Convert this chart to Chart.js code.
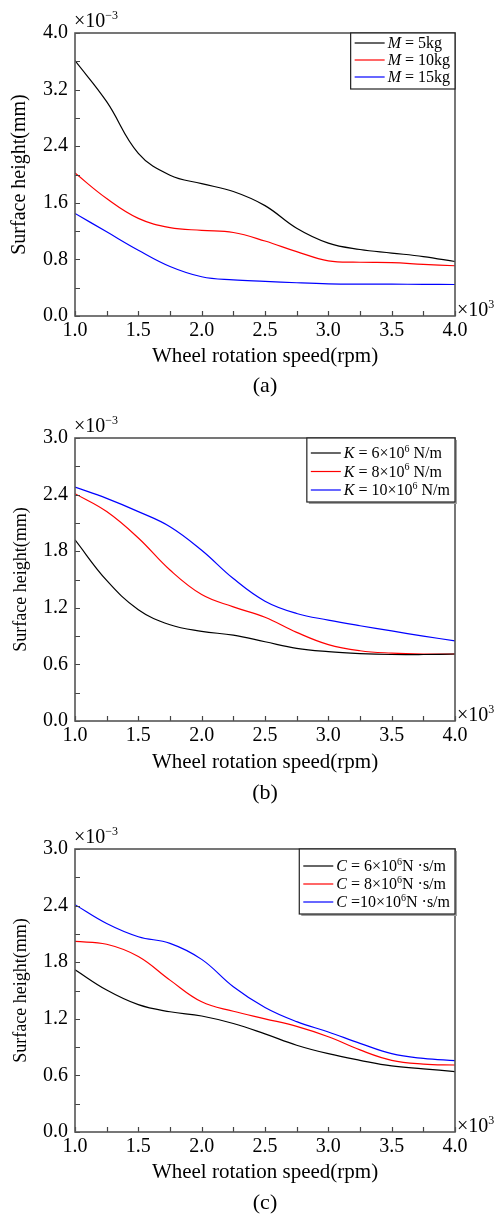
<!DOCTYPE html>
<html>
<head>
<meta charset="utf-8">
<script src="https://cdn.jsdelivr.net/npm/chart.js@4/dist/chart.umd.min.js"></script>
<style>
  html, body { margin: 0; padding: 0; background: #fff; }
  body { width: 499px; height: 1216px; position: relative; overflow: hidden; }
  .panel { position: absolute; left: 0; width: 499px; }
</style>
</head>
<body>
<div class="panel" style="top:0;height:400px"><canvas id="chartA"></canvas></div>
<div class="panel" style="top:400px;height:410px"><canvas id="chartB"></canvas></div>
<div class="panel" style="top:810px;height:406px"><canvas id="chartC"></canvas></div>
<script>
const FONT = "'Liberation Serif', 'Times New Roman', serif";

// wheel rotation speed, x10^3 rpm
const speed = [1.0, 1.25, 1.5, 1.75, 2.0, 2.25, 2.5, 2.75, 3.0, 3.25, 3.5, 3.75, 4.0];

// (a) mass, surface height x10^-3 mm
const massLabels = ['M = 5kg', 'M = 10kg', 'M = 15kg'];
const massM5  = [3.61, 3.03, 2.30, 1.99, 1.87, 1.76, 1.56, 1.24, 1.03, 0.94, 0.89, 0.84, 0.77];
const massM10 = [2.02, 1.66, 1.38, 1.25, 1.21, 1.18, 1.06, 0.91, 0.78, 0.76, 0.755, 0.73, 0.71];
const massM15 = [1.45, 1.19, 0.93, 0.70, 0.555, 0.51, 0.49, 0.47, 0.455, 0.45, 0.45, 0.447, 0.445];

// (b) stiffness
const stiffLabels = ['K = 6×10⁶ N/m', 'K = 8×10⁶ N/m', 'K = 10×10⁶ N/m'];
const stiffK6  = [1.92, 1.49, 1.18, 1.02, 0.95, 0.91, 0.84, 0.77, 0.735, 0.715, 0.705, 0.705, 0.71];
const stiffK8  = [2.41, 2.22, 1.94, 1.60, 1.34, 1.21, 1.10, 0.94, 0.81, 0.745, 0.72, 0.71, 0.71];
const stiffK10 = [2.48, 2.36, 2.22, 2.06, 1.81, 1.51, 1.27, 1.14, 1.07, 1.01, 0.955, 0.90, 0.85];

// (c) damping
const dampLabels = ['C = 6×10⁶N ·s/m', 'C = 8×10⁶N ·s/m', 'C =10×10⁶N ·s/m'];
const dampC6  = [1.72, 1.505, 1.35, 1.275, 1.23, 1.15, 1.04, 0.92, 0.83, 0.76, 0.70, 0.67, 0.64];
const dampC8  = [2.02, 1.99, 1.86, 1.61, 1.38, 1.28, 1.20, 1.12, 1.01, 0.87, 0.76, 0.72, 0.71];
const dampC10 = [2.41, 2.21, 2.07, 2.00, 1.83, 1.54, 1.32, 1.17, 1.06, 0.94, 0.83, 0.78, 0.756];

const seriesColors = ['#000000', '#ff0000', '#0000ff'];

// superscript chars -> drawn small and raised
const SUP = {'⁰':'0','¹':'1','²':'2','³':'3','⁴':'4','⁵':'5','⁶':'6','⁷':'7','⁸':'8','⁹':'9','⁻':'−'};

function splitRich(text, italicFirst) {
    const runs = [];
    [...text].forEach((ch, i) => {
        const sup = ch in SUP;
        const italic = !!italicFirst && i === 0;
        const t = sup ? SUP[ch] : ch;
        const last = runs[runs.length - 1];
        if (last && last.sup === sup && last.italic === italic) last.t += t;
        else runs.push({ t, sup, italic });
    });
    return runs;
}

function runFont(run, size) {
    const s = run.sup ? Math.round(size * 0.62) : size;
    return (run.italic ? 'italic ' : '') + s + 'px ' + FONT;
}

function measureRich(ctx, runs, size) {
    let w = 0;
    runs.forEach(r => { ctx.font = runFont(r, size); w += ctx.measureText(r.t).width; });
    return w;
}

function drawRich(ctx, runs, x, baseline, size) {
    ctx.textAlign = 'left';
    ctx.textBaseline = 'alphabetic';
    runs.forEach(r => {
        ctx.font = runFont(r, size);
        ctx.fillText(r.t, x, r.sup ? baseline - size * 0.4 : baseline);
        x += ctx.measureText(r.t).width;
    });
}

// Frame, inward ticks, exponents, legend box and panel tag
const decorPlugin = {
    id: 'decor',
    afterDraw(chart, args, opts) {
        const { ctx, chartArea: a } = chart;
        const xs = chart.scales.x, ys = chart.scales.y;
        ctx.save();

        ctx.strokeStyle = '#444';
        ctx.lineWidth = 1.2;
        ctx.beginPath();
        for (let v = xs.min; v <= xs.max + 1e-9; v += opts.xMinor) {
            const px = Math.round(xs.getPixelForValue(v)) + 0.5;
            ctx.moveTo(px, a.bottom);
            ctx.lineTo(px, a.bottom - 5);
        }
        for (let v = ys.min; v <= ys.max + 1e-9; v += opts.yMinor) {
            const py = Math.round(ys.getPixelForValue(v)) + 0.5;
            ctx.moveTo(a.left, py);
            ctx.lineTo(a.left + 5, py);
        }
        ctx.stroke();

        ctx.strokeStyle = '#555';
        ctx.lineWidth = 1.6;
        ctx.strokeRect(a.left, a.top, a.right - a.left, a.bottom - a.top);

        ctx.fillStyle = '#000';
        drawRich(ctx, splitRich('×10⁻³'), a.left - 1, a.top - 6, 20);
        drawRich(ctx, splitRich('×10³'), a.right + 2, a.bottom, 20);

        ctx.font = '22px ' + FONT;
        ctx.textAlign = 'center';
        ctx.textBaseline = 'middle';
        ctx.fillText(opts.tag, (a.left + a.right) / 2, opts.tagY);

        // legend
        const lg = opts.legend;
        const size = 16;
        const items = chart.data.datasets.map(ds => ({ runs: splitRich(ds.label, true), color: ds.borderColor }));
        const textW = Math.max(...items.map(it => measureRich(ctx, it.runs, size)));
        const w = 4 + 30 + 3 + textW + 5;
        const h = lg.top + 2 * lg.row + 12;
        const bx = a.right - w, by = a.top;
        if (lg.shadow) {
            ctx.fillStyle = '#a0a0a0';
            ctx.fillRect(bx + 2, by + 2, w, h);
        }
        ctx.fillStyle = '#fff';
        ctx.fillRect(bx, by, w, h);
        ctx.strokeStyle = '#222';
        ctx.lineWidth = 1.2;
        ctx.strokeRect(bx, by, w, h);
        items.forEach((it, i) => {
            const cy = by + lg.top + i * lg.row;
            ctx.strokeStyle = it.color;
            ctx.lineWidth = 1.2;
            ctx.beginPath();
            ctx.moveTo(bx + 4, cy);
            ctx.lineTo(bx + 34, cy);
            ctx.stroke();
            ctx.fillStyle = '#000';
            drawRich(ctx, it.runs, bx + 37, cy + size * 0.33, size);
        });

        ctx.restore();
    }
};

function buildChart(id, o) {
    const canvas = document.getElementById(id);
    if (!canvas) return;
    new Chart(canvas, {
        type: 'line',
        data: {
            datasets: o.series.map((vals, i) => ({
                label: o.labels[i],
                data: speed.map((s, j) => ({ x: s, y: vals[j] })),
                borderColor: seriesColors[i],
                backgroundColor: seriesColors[i],
                borderWidth: 1.2,
                pointRadius: 0,
                fill: false,
                tension: 0.4
            }))
        },
        options: {
            responsive: true,
            maintainAspectRatio: false,
            animation: false,
            events: [],
            layout: { padding: { top: o.plotTop, right: 44, left: 0, bottom: 0 } },
            plugins: {
                legend: { display: false },
                tooltip: { enabled: false },
                decor: {
                    xMinor: 0.25,
                    yMinor: o.yStep / 2,
                    tag: o.tag,
                    tagY: o.tagY,
                    legend: o.legend
                }
            },
            scales: {
                x: {
                    type: 'linear',
                    min: 1,
                    max: 4,
                    grid: { display: false, drawTicks: false },
                    border: { display: false },
                    ticks: {
                        stepSize: 0.5,
                        autoSkip: false,
                        maxRotation: 0,
                        padding: 3,
                        color: '#000',
                        font: { family: FONT, size: 20 },
                        callback: v => Number(v).toFixed(1)
                    },
                    title: {
                        display: true,
                        text: 'Wheel rotation speed(rpm)',
                        color: '#000',
                        font: { family: FONT, size: 21 },
                        padding: { top: 0, bottom: o.xTitlePad }
                    },
                    afterFit: s => { s.height = o.xAxisH; }
                },
                y: {
                    min: 0,
                    max: o.yMax,
                    grid: { display: false, drawTicks: false },
                    border: { display: false },
                    ticks: {
                        stepSize: o.yStep,
                        padding: 7,
                        color: '#000',
                        font: { family: FONT, size: 20 },
                        callback: v => Number(v).toFixed(1)
                    },
                    title: {
                        display: true,
                        text: 'Surface height(mm)',
                        color: '#000',
                        font: { family: FONT, size: o.yTitleSize },
                        padding: { top: o.yTitlePad, bottom: 0 }
                    },
                    afterFit: s => { s.width = 75; }
                }
            }
        },
        plugins: [decorPlugin]
    });
}

buildChart('chartA', {
    labels: massLabels,
    series: [massM5, massM10, massM15],
    yMax: 4.0, yStep: 0.8,
    plotTop: 33, xAxisH: 84, xTitlePad: 31,
    yTitleSize: 20, yTitlePad: 8,
    tag: '(a)', tagY: 386,
    legend: { top: 10, row: 17, shadow: false }
});

buildChart('chartB', {
    labels: stiffLabels,
    series: [stiffK6, stiffK8, stiffK10],
    yMax: 3.0, yStep: 0.6,
    plotTop: 38, xAxisH: 89, xTitlePad: 35,
    yTitleSize: 18, yTitlePad: 10,
    tag: '(b)', tagY: 393,
    legend: { top: 15, row: 18.5, shadow: true }
});

buildChart('chartC', {
    labels: dampLabels,
    series: [dampC6, dampC8, dampC10],
    yMax: 3.0, yStep: 0.6,
    plotTop: 39, xAxisH: 84, xTitlePad: 31,
    yTitleSize: 18, yTitlePad: 10,
    tag: '(c)', tagY: 393,
    legend: { top: 17, row: 18, shadow: true }
});
</script>
</body>
</html>
